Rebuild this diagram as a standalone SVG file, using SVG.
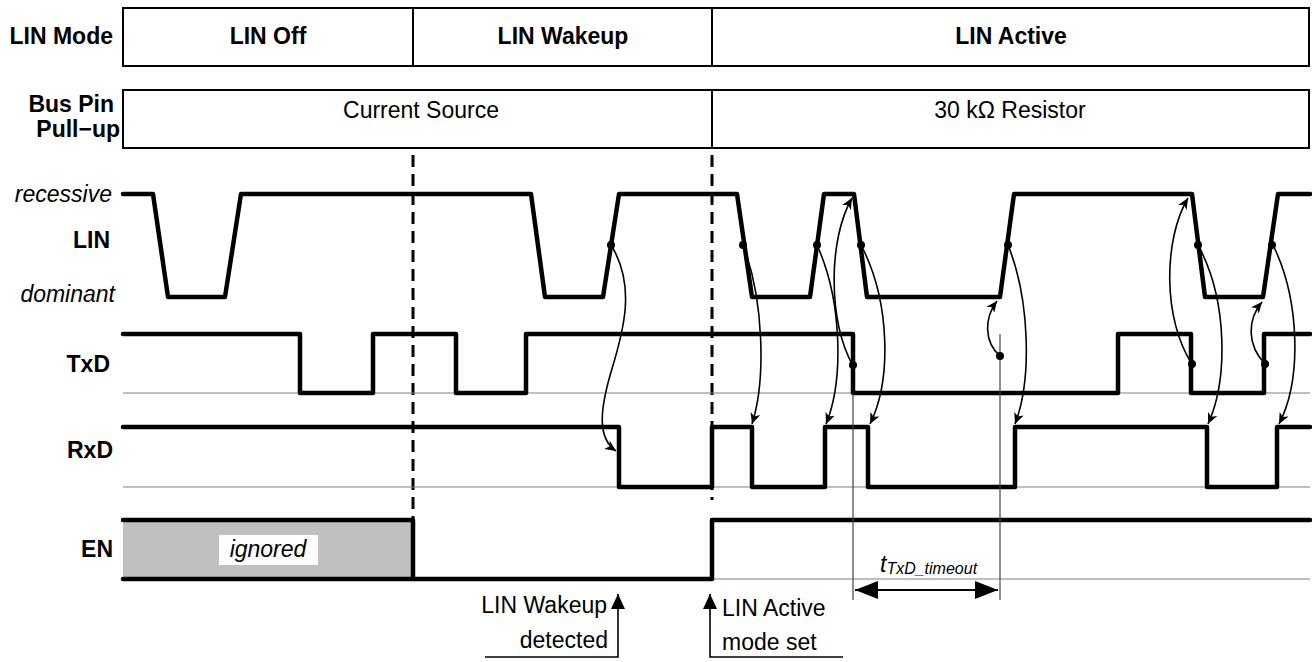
<svg xmlns="http://www.w3.org/2000/svg" width="1312" height="662" viewBox="0 0 1312 662">
<style>
text{font-family:"Liberation Sans",Arial,sans-serif;font-size:23px;fill:#000}
.b{font-weight:bold}
.i{font-style:italic}
.box{fill:#fff;stroke:#000;stroke-width:2}
.div{stroke:#000;stroke-width:2}
.wave{fill:none;stroke:#000;stroke-width:4.5;stroke-linejoin:round;stroke-linecap:round}
.base{stroke:#808080;stroke-width:1.2}
.dash{stroke:#000;stroke-width:3;stroke-dasharray:12 7}
.curve{fill:none;stroke:#000;stroke-width:1.6;marker-end:url(#ah)}
.thin{stroke:#444;stroke-width:1.2}
.lbl{fill:none;stroke:#000;stroke-width:1.6}
</style>
<defs>
<marker id="ah" markerUnits="userSpaceOnUse" markerWidth="12" markerHeight="10" refX="11" refY="5" orient="auto">
<path d="M0,0 L11,5 L0,10 L3,5 z" fill="#000"/>
</marker>
<marker id="dim" markerUnits="userSpaceOnUse" markerWidth="24" markerHeight="18" refX="23" refY="9" orient="auto-start-reverse">
<path d="M0,0 L23,9 L0,18 z" fill="#000"/>
</marker>
<marker id="up" markerUnits="userSpaceOnUse" markerWidth="16" markerHeight="16" refX="15" refY="7" orient="auto">
<path d="M0,0 L15,7 L0,14 z" fill="#000"/>
</marker>
</defs>

<g id="mode-row">
<text class="b" x="113" y="44" text-anchor="end">LIN Mode</text>
<rect class="box" x="123" y="8" width="1186" height="58"/>
<line class="div" x1="413" y1="8" x2="413" y2="66"/>
<line class="div" x1="712" y1="8" x2="712" y2="66"/>
<text class="b" x="268" y="44" text-anchor="middle">LIN Off</text>
<text class="b" x="563" y="44" text-anchor="middle">LIN Wakeup</text>
<text class="b" x="1011" y="44" text-anchor="middle">LIN Active</text>
</g>

<g id="pullup-row">
<text class="b" x="114" y="112" text-anchor="end">Bus Pin</text>
<text class="b" x="120" y="137" text-anchor="end">Pull−up</text>
<rect class="box" x="123" y="90" width="1186" height="58"/>
<line class="div" x1="712" y1="90" x2="712" y2="148"/>
<text x="421" y="118" text-anchor="middle">Current Source</text>
<text x="1010" y="118" text-anchor="middle">30 kΩ Resistor</text>
</g>

<g id="mode-boundaries">
<line class="dash" x1="413" y1="155" x2="413" y2="519"/>
<line class="dash" x1="712" y1="155" x2="712" y2="500"/>
</g>

<g id="lin">
<text class="i" x="112" y="202" text-anchor="end">recessive</text>
<text class="b" x="110" y="248" text-anchor="end">LIN</text>
<text class="i" x="115" y="302" text-anchor="end">dominant</text>
<path class="wave" d="M123,194 L153,194 L168,297 L225,297 L241,194 L531,194 L545,297 L603,297 L619,194 L737,194 L752,297 L810,297 L824,194 L854,194 L867,297 L1000,297 L1014,194 L1192,194 L1205,297 L1263,297 L1278,194 L1310,194"/>
</g>

<g id="txd">
<text class="b" x="110" y="372" text-anchor="end">TxD</text>
<line class="base" x1="123" y1="393" x2="1310" y2="393"/>
<path class="wave" d="M123,334 L300,334 L300,393 L373,393 L373,334 L456,334 L456,393 L526,393 L526,334 L853,334 L853,393 L1118,393 L1118,334 L1191,334 L1191,393 L1264,393 L1264,334 L1310,334"/>
</g>

<g id="rxd">
<text class="b" x="113" y="458" text-anchor="end">RxD</text>
<line class="base" x1="123" y1="487" x2="1310" y2="487"/>
<path class="wave" d="M123,427 L619,427 L619,487 L712,487 L712,427 L752,427 L752,487 L825,487 L825,427 L868,427 L868,487 L1015,487 L1015,427 L1207,427 L1207,487 L1277,487 L1277,427 L1310,427"/>
</g>

<g id="en">
<text class="b" x="113" y="557" text-anchor="end">EN</text>
<rect x="123" y="520" width="290" height="59" fill="#c0c0c0"/>
<rect x="219" y="535" width="99" height="30" fill="#fff"/>
<text class="i" x="268" y="557" text-anchor="middle">ignored</text>
<line class="base" x1="712" y1="579" x2="1310" y2="579"/>
<path class="wave" d="M123,520 L413,520 L413,579 M123,579 L712,579 L712,520 L1310,520"/>
</g>

<g id="timeout">
<line class="thin" x1="853" y1="393" x2="853" y2="600"/>
<line class="thin" x1="1000" y1="334" x2="1000" y2="600"/>
<line x1="855" y1="590" x2="998" y2="590" stroke="#000" stroke-width="2" marker-start="url(#dim)" marker-end="url(#dim)"/>
<text class="i" x="880" y="572">t<tspan font-size="16" dy="2">TxD_timeout</tspan></text>
</g>

<g id="connectors">
<path class="curve" d="M611,245 C636,285 624,330 611,372 C600,410 597,438 616,451"/>
<path class="curve" d="M743,245 C764,300 766,380 752,424"/>
<path class="curve" d="M817,245 C842,300 844,380 826,424"/>
<path class="curve" d="M853,366 C828,320 828,240 852,198"/>
<path class="curve" d="M861,245 C890,300 892,380 870,424"/>
<path class="curve" d="M1000,356 C984,342 984,318 997,301"/>
<path class="curve" d="M1008,245 C1030,300 1032,380 1015,424"/>
<path class="curve" d="M1192,364 C1163,320 1163,240 1188,198"/>
<path class="curve" d="M1198,245 C1228,300 1228,380 1208,424"/>
<path class="curve" d="M1265,364 C1247,345 1247,320 1262,302"/>
<path class="curve" d="M1273,245 C1300,300 1302,380 1279,424"/>
<g fill="#000">
<circle cx="611" cy="245" r="4"/>
<circle cx="743" cy="245" r="4"/>
<circle cx="817" cy="245" r="4"/>
<circle cx="853" cy="365" r="4"/>
<circle cx="861" cy="245" r="4"/>
<circle cx="1000" cy="356" r="4"/>
<circle cx="1008" cy="245" r="4"/>
<circle cx="1192" cy="364" r="4"/>
<circle cx="1198" cy="245" r="4"/>
<circle cx="1265" cy="364" r="4"/>
<circle cx="1272" cy="245" r="4"/>
</g>
</g>

<g id="wakeup-detected">
<path class="lbl" d="M485,657 L618,657 L618,594" marker-end="url(#up)"/>
<text x="607" y="613" text-anchor="end">LIN Wakeup</text>
<text x="608" y="648" text-anchor="end">detected</text>
</g>

<g id="active-set">
<path class="lbl" d="M843,657 L710,657 L710,594" marker-end="url(#up)"/>
<text x="722" y="616">LIN Active</text>
<text x="722" y="650">mode set</text>
</g>
</svg>
